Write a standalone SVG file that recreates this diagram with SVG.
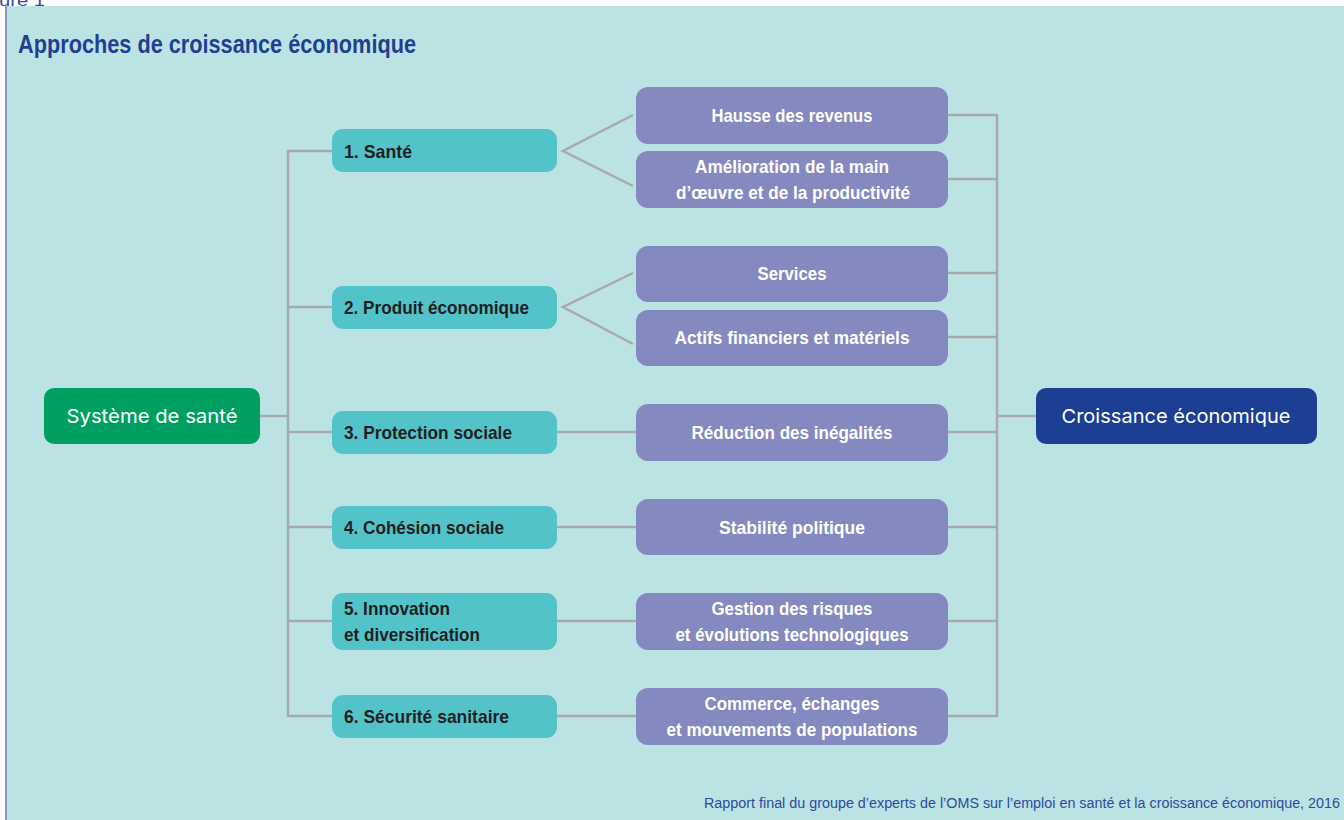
<svg xmlns="http://www.w3.org/2000/svg" width="1344" height="820" viewBox="0 0 1344 820">
<style>
.bg{fill:#bce3e4}
.teal{fill:#52c3c9}
.purple{fill:#8489c0}
.tt{font-family:"Liberation Sans",Arial,sans-serif;font-weight:bold;font-size:19px;fill:#231f20}
.pt{font-family:"Liberation Sans",Arial,sans-serif;font-weight:bold;font-size:19px;fill:#ffffff;text-anchor:middle}
.big{font-family:Inter,"Liberation Sans",Arial,sans-serif;font-size:19px;fill:#ffffff;text-anchor:middle}
.conn{fill:none;stroke:#a9a9ab;stroke-width:2.5}
</style>
<rect x="0" y="0" width="1344" height="820" fill="#ffffff"/>
<rect class="bg" x="7" y="6" width="1337" height="814"/>
<line x1="6" y1="6" x2="6" y2="820" stroke="#4a5fa8" stroke-width="1.3"/>
<text x="-1" y="6" font-family="Liberation Sans, Arial, sans-serif" font-size="16" fill="#3a4a9a" textLength="46" lengthAdjust="spacingAndGlyphs">ure 1</text>
<text x="18" y="53" font-family="Liberation Sans, Arial, sans-serif" font-weight="bold" font-size="25" fill="#1f3f93" textLength="398" lengthAdjust="spacingAndGlyphs">Approches de croissance économique</text>

<g id="connectors">
<polyline class="conn" points="260,416 288,416"/>
<line class="conn" x1="288" y1="150" x2="288" y2="717"/>
<polyline class="conn" points="332,151 288,151"/>
<polyline class="conn" points="332,307 288,307"/>
<polyline class="conn" points="332,432 288,432"/>
<polyline class="conn" points="332,527 288,527"/>
<polyline class="conn" points="332,621 288,621"/>
<polyline class="conn" points="332,716 288,716"/>
<polyline class="conn" points="633,115 563,151 633,186"/>
<polyline class="conn" points="633,273 563,307 633,344"/>
<line class="conn" x1="557" y1="432" x2="636" y2="432"/>
<line class="conn" x1="557" y1="527" x2="636" y2="527"/>
<line class="conn" x1="557" y1="621" x2="636" y2="621"/>
<line class="conn" x1="557" y1="716" x2="636" y2="716"/>
<line class="conn" x1="997" y1="114" x2="997" y2="717"/>
<line class="conn" x1="948" y1="115" x2="997" y2="115"/>
<line class="conn" x1="948" y1="179" x2="997" y2="179"/>
<line class="conn" x1="948" y1="273" x2="997" y2="273"/>
<line class="conn" x1="948" y1="337" x2="997" y2="337"/>
<line class="conn" x1="948" y1="432" x2="997" y2="432"/>
<line class="conn" x1="948" y1="527" x2="997" y2="527"/>
<line class="conn" x1="948" y1="621" x2="997" y2="621"/>
<line class="conn" x1="948" y1="716" x2="997" y2="716"/>
<line class="conn" x1="997" y1="416" x2="1036" y2="416"/>
</g>

<g id="systeme">
<rect x="44" y="388" width="216" height="56" rx="10" fill="#00a062"/>
<text class="big" x="152" y="423" textLength="171" lengthAdjust="spacingAndGlyphs">Système de santé</text>
</g>
<g id="croissance">
<rect x="1036" y="388" width="281" height="56" rx="10" fill="#1c3f94"/>
<text class="big" x="1176" y="423" textLength="229" lengthAdjust="spacingAndGlyphs">Croissance économique</text>
</g>

<g id="t1"><rect class="teal" x="332" y="129" width="225" height="43" rx="11"/>
<text class="tt" x="344" y="157.5" textLength="68" lengthAdjust="spacingAndGlyphs">1. Santé</text></g>
<g id="t2"><rect class="teal" x="332" y="286" width="225" height="43" rx="11"/>
<text class="tt" x="344" y="314" textLength="185" lengthAdjust="spacingAndGlyphs">2. Produit économique</text></g>
<g id="t3"><rect class="teal" x="332" y="411" width="225" height="43" rx="11"/>
<text class="tt" x="344" y="439" textLength="168" lengthAdjust="spacingAndGlyphs">3. Protection sociale</text></g>
<g id="t4"><rect class="teal" x="332" y="506" width="225" height="43" rx="11"/>
<text class="tt" x="344" y="534" textLength="160" lengthAdjust="spacingAndGlyphs">4. Cohésion sociale</text></g>
<g id="t5"><rect class="teal" x="332" y="593" width="225" height="57" rx="11"/>
<text class="tt" x="344" y="615" textLength="106" lengthAdjust="spacingAndGlyphs">5. Innovation</text>
<text class="tt" x="344" y="641" textLength="136" lengthAdjust="spacingAndGlyphs">et diversification</text></g>
<g id="t6"><rect class="teal" x="332" y="695" width="225" height="43" rx="11"/>
<text class="tt" x="344" y="723" textLength="165" lengthAdjust="spacingAndGlyphs">6. Sécurité sanitaire</text></g>

<g id="p1"><rect class="purple" x="636" y="87" width="312" height="57" rx="12"/>
<text class="pt" x="792" y="122" textLength="161" lengthAdjust="spacingAndGlyphs">Hausse des revenus</text></g>
<g id="p2"><rect class="purple" x="636" y="151" width="312" height="57" rx="12"/>
<text class="pt" x="792" y="173" textLength="194" lengthAdjust="spacingAndGlyphs">Amélioration de la main</text>
<text class="pt" x="793" y="199" textLength="234" lengthAdjust="spacingAndGlyphs">d’œuvre et de la productivité</text></g>
<g id="p3"><rect class="purple" x="636" y="246" width="312" height="56" rx="12"/>
<text class="pt" x="792" y="280" textLength="69" lengthAdjust="spacingAndGlyphs">Services</text></g>
<g id="p4"><rect class="purple" x="636" y="310" width="312" height="56" rx="12"/>
<text class="pt" x="792" y="344" textLength="235" lengthAdjust="spacingAndGlyphs">Actifs financiers et matériels</text></g>
<g id="p5"><rect class="purple" x="636" y="404" width="312" height="57" rx="12"/>
<text class="pt" x="792" y="439" textLength="201" lengthAdjust="spacingAndGlyphs">Réduction des inégalités</text></g>
<g id="p6"><rect class="purple" x="636" y="499" width="312" height="56" rx="12"/>
<text class="pt" x="792" y="534" textLength="146" lengthAdjust="spacingAndGlyphs">Stabilité politique</text></g>
<g id="p7"><rect class="purple" x="636" y="593" width="312" height="57" rx="12"/>
<text class="pt" x="792" y="615" textLength="161" lengthAdjust="spacingAndGlyphs">Gestion des risques</text>
<text class="pt" x="792" y="641" textLength="233" lengthAdjust="spacingAndGlyphs">et évolutions technologiques</text></g>
<g id="p8"><rect class="purple" x="636" y="688" width="312" height="57" rx="12"/>
<text class="pt" x="792" y="710" textLength="175" lengthAdjust="spacingAndGlyphs">Commerce, échanges</text>
<text class="pt" x="792" y="736" textLength="251" lengthAdjust="spacingAndGlyphs">et mouvements de populations</text></g>

<text x="704" y="808" font-family="Liberation Sans, Arial, sans-serif" font-size="14" fill="#2b4a9a" textLength="636" lengthAdjust="spacingAndGlyphs">Rapport final du groupe d’experts de l’OMS sur l’emploi en santé et la croissance économique, 2016</text>
</svg>
